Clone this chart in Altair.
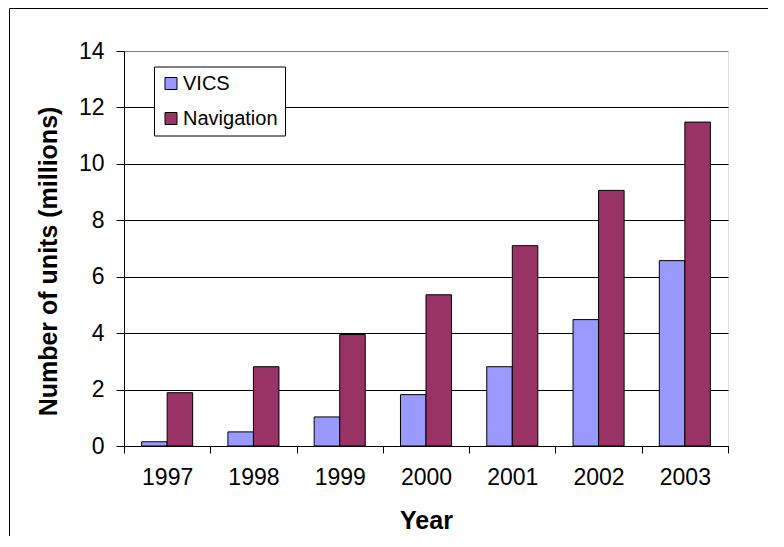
import altair as alt
import pandas as pd

years = ["1997", "1998", "1999", "2000", "2001", "2002", "2003"]
vics = [0.15, 0.5, 1.03, 1.82, 2.81, 4.48, 6.57]
navigation = [1.89, 2.81, 3.95, 5.36, 7.1, 9.06, 11.48]
series = ["VICS", "Navigation"]
colors = ["#9999FF", "#993366"]
y_ticks = [0, 2, 4, 6, 8, 10, 12, 14]

rows = []
for i, yr in enumerate(years):
    rows.append({"Year": yr, "Series": "VICS", "Units": vics[i]})
    rows.append({"Year": yr, "Series": "Navigation", "Units": navigation[i]})
df = pd.DataFrame(rows)

FONT = "Liberation Sans"

frame = alt.Chart(alt.Data(values=[{}])).mark_rect(
    filled=False, stroke="black", strokeWidth=1
).encode(
    x=alt.value(-114.5), x2=alt.value(900), y=alt.value(-42.5), y2=alt.value(900)
)

bars = alt.Chart(df).mark_bar(stroke="black", strokeWidth=1).encode(
    x=alt.X(
        "Year:N",
        sort=years,
        scale=alt.Scale(paddingInner=0, paddingOuter=0),
        axis=alt.Axis(
            title="Year",
            labelAngle=0,
            tickBand="extent",
            tickSize=7,
            labelPadding=13,
            labelFontSize=23,
            titleFontSize=25,
            titleFontWeight="bold",
            titleY=82,
            titleBaseline="alphabetic",
            domainColor="black",
            tickColor="black",
            grid=False,
        ),
    ),
    xOffset=alt.XOffset(
        "Series:N",
        sort=series,
        scale=alt.Scale(domain=series, paddingInner=0, paddingOuter=0.69),
    ),
    y=alt.Y(
        "Units:Q",
        scale=alt.Scale(domain=[0, 14], nice=False),
        axis=alt.Axis(
            values=y_ticks,
            title="Number of units (millions)",
            tickSize=8,
            labelPadding=12,
            labelFontSize=23,
            titleFontSize=25,
            titleFontWeight="bold",
            titleX=-76,
            titleY=210,
            titleAngle=270,
            titleAlign="center",
            titleBaseline="middle",
            domainColor="black",
            tickColor="black",
            grid=True,
            gridColor={"condition": {"test": "datum.value >= 14", "value": "#808080"}, "value": "black"},
            gridWidth=1,
        ),
    ),
    color=alt.Color(
        "Series:N",
        sort=series,
        scale=alt.Scale(domain=series, range=colors),
        legend=alt.Legend(
            title=None,
            orient="none",
            legendX=30,
            legendY=15.5,
            fillColor="white",
            strokeColor="black",
            padding=7,
            symbolType="square",
            symbolSize=144,
            symbolStrokeColor="black",
            symbolStrokeWidth=1,
            labelFontSize=20,
            labelFont=FONT,
            labelColor="black",
            labelOffset=2,
            rowPadding=15,
        ),
    ),
)

chart = alt.layer(frame, bars).properties(
    width=604,
    height=395,
    autosize=alt.AutoSizeParams(type="none"),
    padding={"left": 116, "top": 43, "right": 40, "bottom": 90},
).configure_view(
    stroke="#808080", fill="#C0C0C0", strokeWidth=1
).configure_axis(
    labelFont=FONT, titleFont=FONT, labelColor="black", titleColor="black"
).configure(background="white")

chart.save("out.html", embed_options={"renderer": "svg", "actions": False})
